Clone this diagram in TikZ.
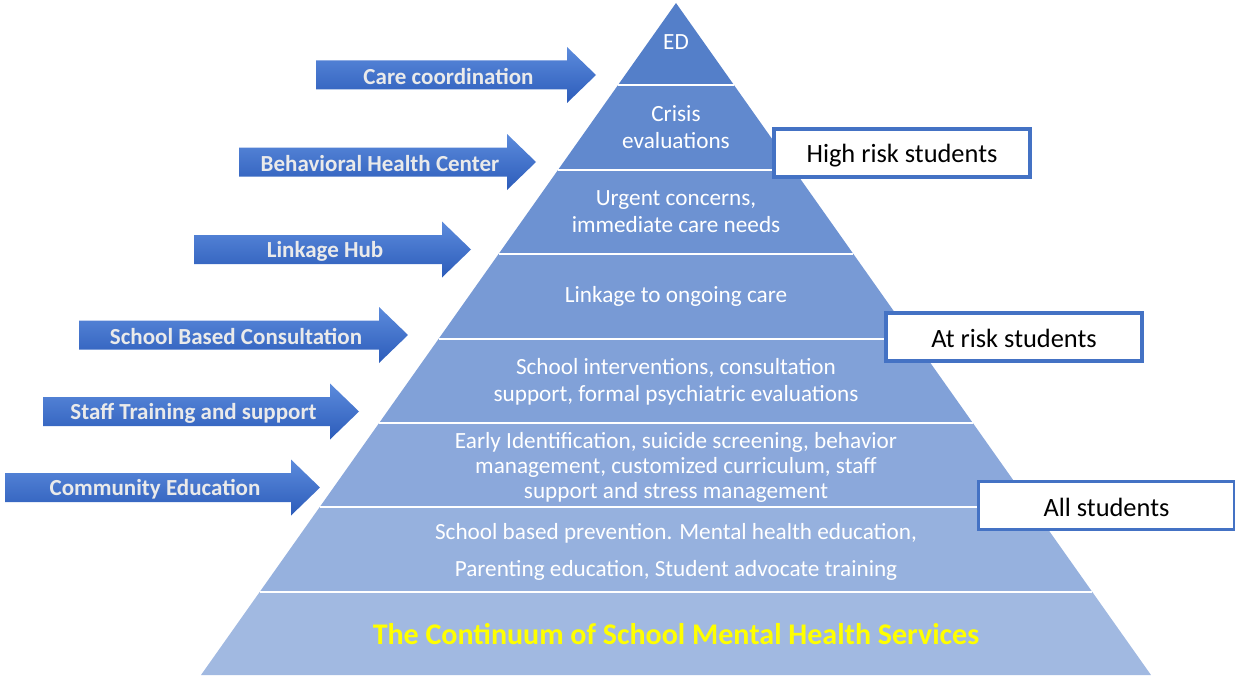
\documentclass[tikz,border=0pt]{standalone}
\usepackage{fontspec}
\setmainfont{Carlito}
\definecolor{layA}{RGB}{84,127,201}
\definecolor{layB}{RGB}{97,137,206}
\definecolor{layC}{RGB}{109,146,210}
\definecolor{layD}{RGB}{120,154,213}
\definecolor{layE}{RGB}{129,161,216}
\definecolor{layF}{RGB}{139,168,219}
\definecolor{layG}{RGB}{150,177,222}
\definecolor{layH}{RGB}{161,185,225}
\definecolor{boxblue}{RGB}{68,114,196}
\definecolor{arrtop}{RGB}{92,139,220}
\definecolor{arrbot}{RGB}{44,92,186}
\definecolor{arrtext}{RGB}{234,234,234}
\definecolor{titleyellow}{RGB}{255,255,0}
\tikzset{
  laytext/.style={text=white, align=center, inner sep=0pt,
    font=\fontsize{23.2}{27}\selectfont},
  arrlabel/.style={text=arrtext, inner sep=0pt,
    font=\fontsize{23}{26}\selectfont\bfseries},
  riskbox/.style={draw=boxblue, line width=3.2pt, fill=white,
    minimum width=256pt, minimum height=48pt, inner sep=0pt,
    font=\fontsize{26.4}{30}\selectfont},
  risklabel/.style={inner sep=0pt, font=\fontsize{26.4}{30}\selectfont},
  sepline/.style={white, line width=2.5pt}
}
\begin{document}
\begin{tikzpicture}[x=1pt,y=-1pt]
\useasboundingbox (0,0) rectangle (1235,677);

% pyramid layers (apex at 676,3; half width grows 0.70685 per unit of depth)
\foreach \ya/\yb/\c in {3/85/layA, 85/170/layB, 170/254/layC, 254/339/layD,
                        339/423/layE, 423/507/layF, 507/592/layG, 592/675/layH}{
  \fill[\c] ({676-(\ya-3)*0.70685},\ya) -- ({676+(\ya-3)*0.70685},\ya)
    -- ({676+(\yb-3)*0.70685},\yb) -- ({676-(\yb-3)*0.70685},\yb) -- cycle;
}
% white separators between the layers
\foreach \y in {85,170,254,339,423,507,592}{
  \draw[sepline] ({676-(\y-3)*0.70685},\y) -- ({676+(\y-3)*0.70685},\y);
}

% layer texts
\node[laytext] (ed) at (676,42) {ED};
\node[laytext] (crisis) at (676,127) {Crisis\\evaluations};
\node[laytext] (urgent) at (676,212) {Urgent concerns,\\immediate care needs};
\node[laytext] (linkage) at (676,296) {Linkage to ongoing care};
\node[laytext] (schoolint) at (676,381.5) {School interventions, consultation\\support, formal psychiatric evaluations};
\node[laytext, font=\fontsize{23.2}{25}\selectfont] (early) at (676,467)
  {Early Identification, suicide screening, behavior\\management, customized curriculum, staff\\support and stress management};
\node[laytext, font=\fontsize{23.2}{37}\selectfont] (prevention) at (676,552)
  {School based prevention. Mental health education,\\Parenting education, Student advocate training};
\node[text=titleyellow, inner sep=0pt, font=\fontsize{30}{33}\selectfont\bfseries]
  (title) at (676,634) {The Continuum of School Mental Health Services};

% block arrows: left end / head base / centre line / label
\foreach \l/\b/\cy/\name/\txt in {
  316/567/75/arrcare/Care coordination,
  239/507/162/arrbhc/Behavioral Health Center,
  194/442/249.5/arrhub/Linkage Hub,
  79/379/335/arrsbc/School Based Consultation,
  43/330/411.5/arrstaff/Staff Training and support,
  5/291/487.5/arrcomm/Community Education}{
  \shade[top color=arrtop, bottom color=arrbot]
    (\l,\cy-14.5) -- (\b,\cy-14.5) -- (\b,\cy-28) -- (\b+29,\cy)
    -- (\b,\cy+28) -- (\b,\cy+14.5) -- (\l,\cy+14.5) -- cycle;
  \node[arrlabel] (\name) at ({(\l+\b)/2+7},\cy+1.5) {\txt};
}

% risk level boxes, labels set slightly below the box centre
\node[riskbox] (high) at (902,153) {};
\node[risklabel] (hightext) at ([yshift=-2.5pt]high.center) {High risk students};
\node[riskbox] (atrisk) at (1014,337) {};
\node[risklabel] (atrisktext) at ([yshift=-1.5pt]atrisk.center) {At risk students};
\node[riskbox] (all) at (1106.5,505.5) {};
\node[risklabel] (alltext) at ([yshift=-1.5pt]all.center) {All students};
\end{tikzpicture}
\end{document}
